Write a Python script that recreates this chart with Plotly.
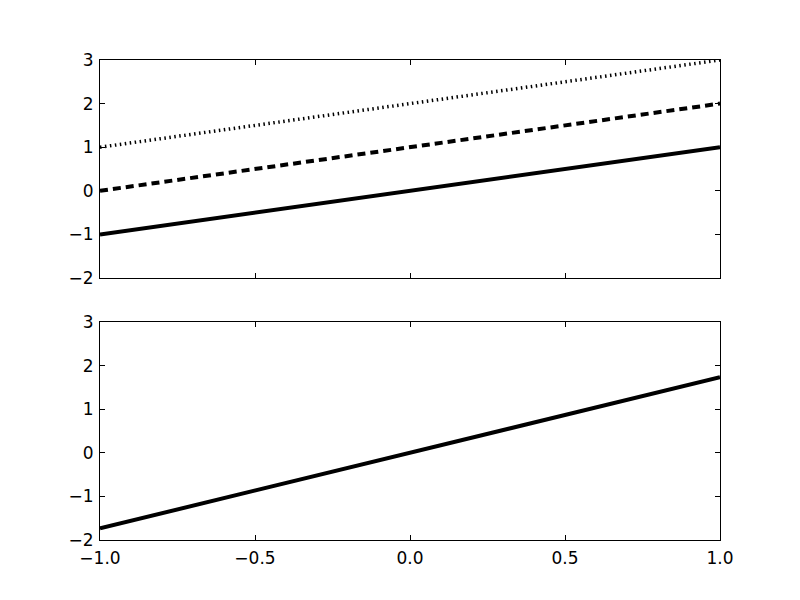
import plotly.graph_objects as go
from plotly.subplots import make_subplots

x_vals = [-1.0, 1.0]
top_solid = [-1.0, 1.0]
top_dashed = [0.0, 2.0]
top_dotted = [1.0, 3.0]
bottom_line = [-1.732, 1.732]

x_ticks = [-1.0, -0.5, 0.0, 0.5, 1.0]
x_ticklabels = ["\u22121.0", "\u22120.5", "0.0", "0.5", "1.0"]
y_ticks = [-2, -1, 0, 1, 2, 3]
y_ticklabels = ["\u22122", "\u22121", "0", "1", "2", "3"]

fig = make_subplots(rows=2, cols=1, shared_xaxes=False, vertical_spacing=0.0917)

fig.add_trace(go.Scatter(x=x_vals, y=top_solid, mode="lines",
                         line=dict(color="black", width=4)), row=1, col=1)
fig.add_trace(go.Scatter(x=x_vals, y=top_dashed, mode="lines",
                         line=dict(color="black", width=4, dash="8px,5px")), row=1, col=1)
fig.add_trace(go.Scatter(x=x_vals, y=top_dotted, mode="lines",
                         line=dict(color="black", width=3.5, dash="1.5px,3.5px")), row=1, col=1)
fig.add_trace(go.Scatter(x=x_vals, y=bottom_line, mode="lines",
                         line=dict(color="black", width=4)), row=2, col=1)

axis_common = dict(showgrid=False, zeroline=False, showline=True, linecolor="black",
                   linewidth=1, mirror="ticks", ticks="inside", ticklen=5,
                   tickcolor="black", tickwidth=1,
                   tickfont=dict(family="DejaVu Sans", size=17, color="black"))

for r in (1, 2):
    fig.update_xaxes(range=[-1, 1], tickvals=x_ticks, ticktext=x_ticklabels,
                     showticklabels=(r == 2), ticklabelstandoff=3,
                     row=r, col=1, **axis_common)
    fig.update_yaxes(range=[-2, 3], tickvals=y_ticks, ticktext=y_ticklabels,
                     ticklabelstandoff=2, row=r, col=1, **axis_common)

fig.update_layout(width=800, height=600, showlegend=False,
                  plot_bgcolor="white", paper_bgcolor="white",
                  margin=dict(l=92, r=88, t=52, b=68))
fig.update_yaxes(domain=[0.5458, 1.0], row=1, col=1)
fig.update_yaxes(domain=[0.0, 0.4542], row=2, col=1)

fig.write_html("out.html")
